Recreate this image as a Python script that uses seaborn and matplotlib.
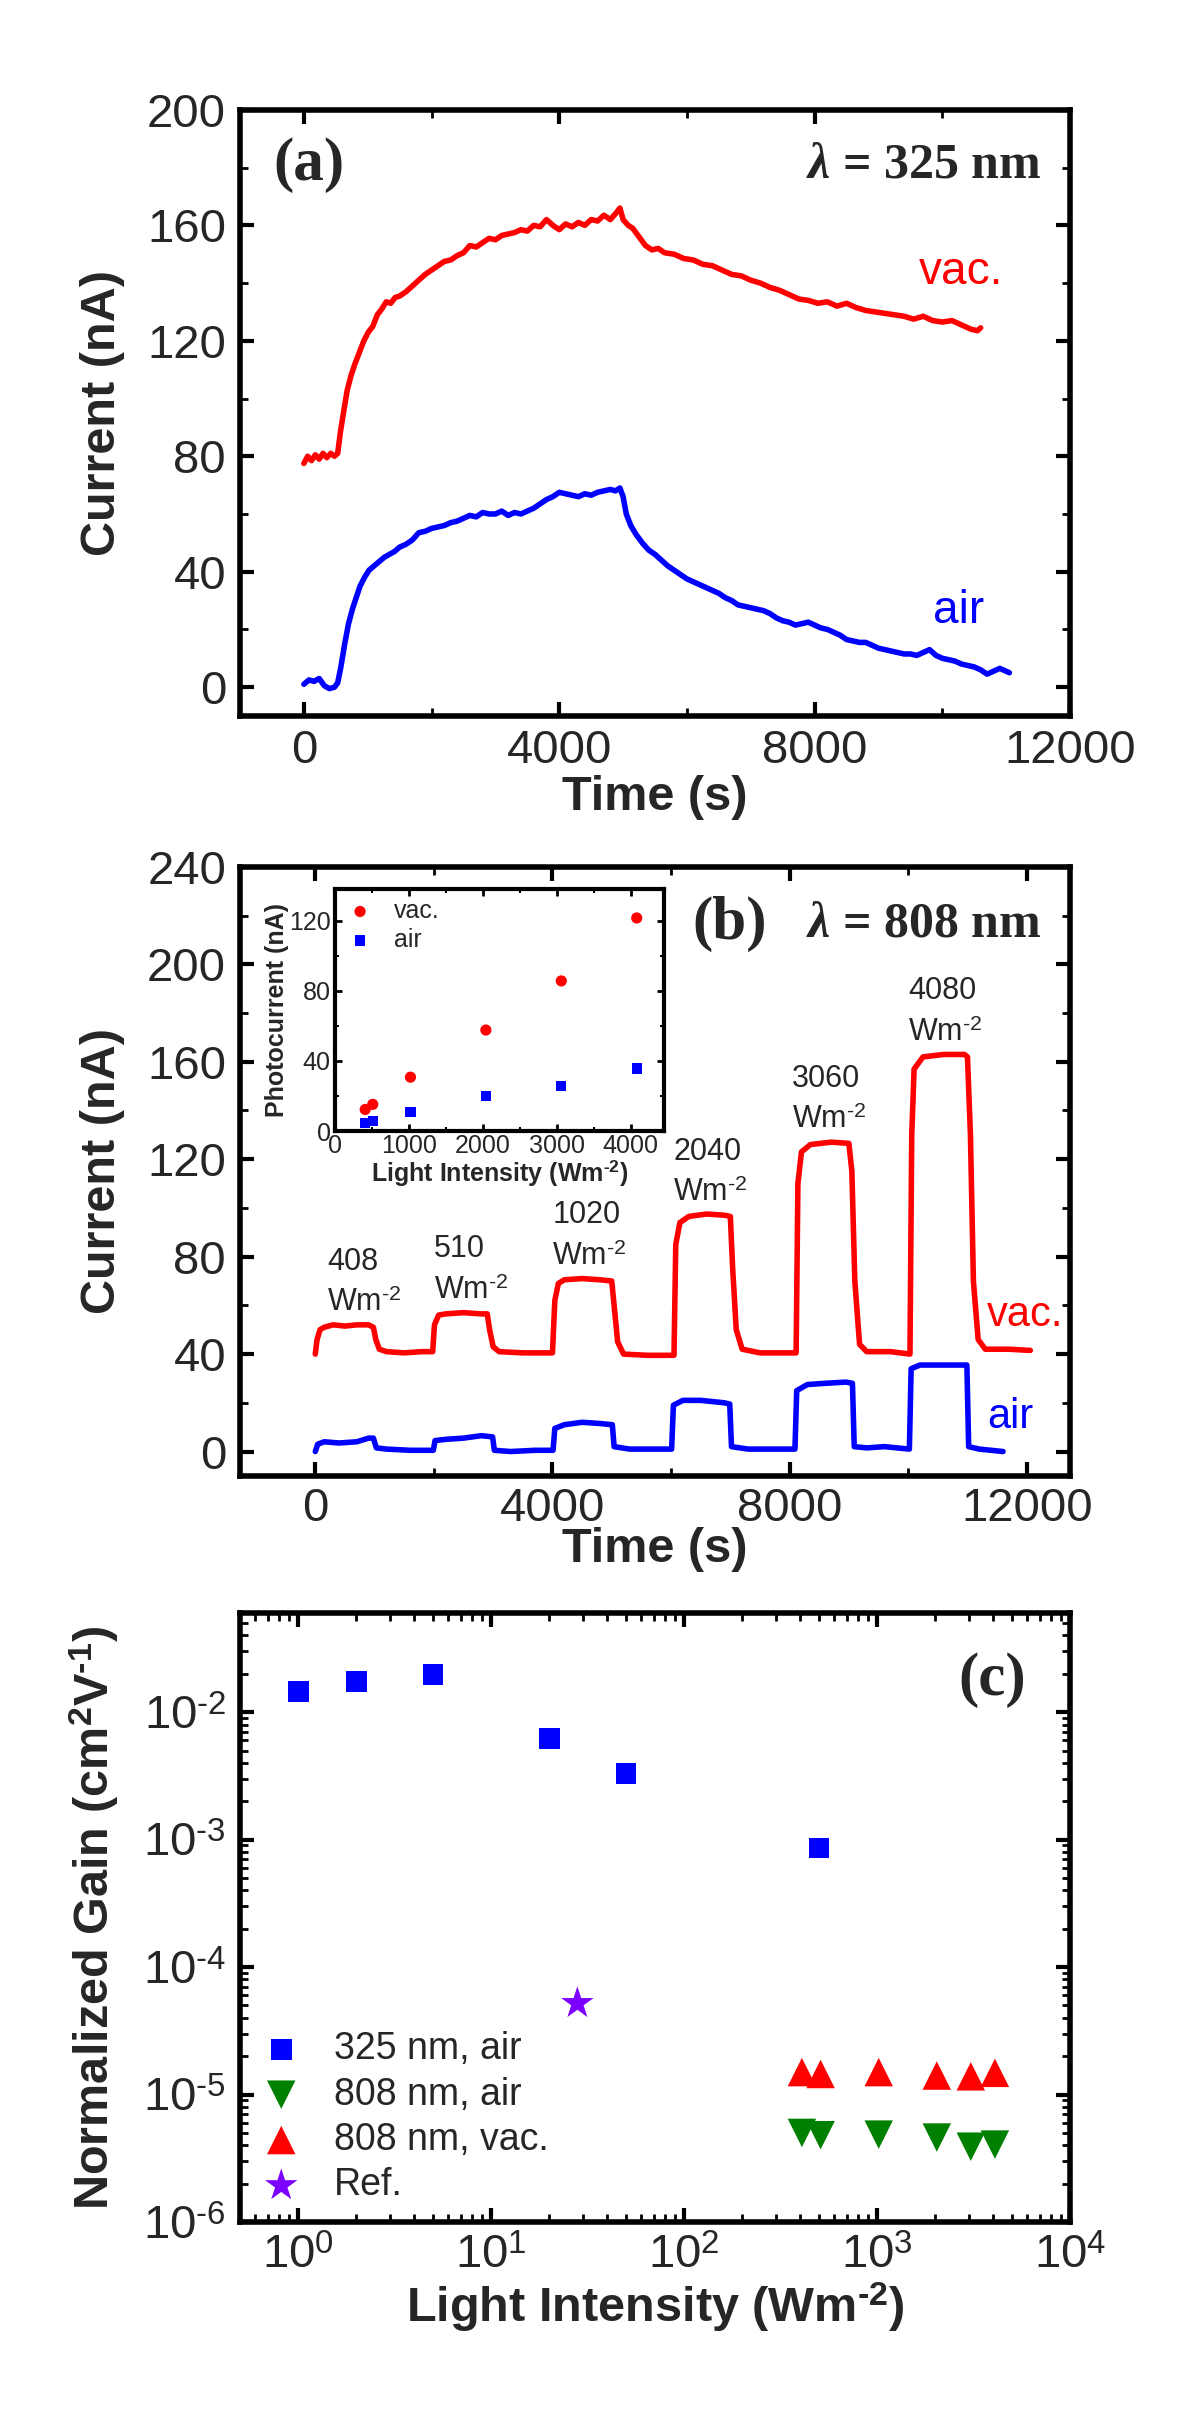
"""
Photocurrent figure: (a) 325 nm transient, (b) 808 nm on/off steps with inset,
(c) normalized gain vs light intensity (log-log)
"""

import matplotlib
matplotlib.use('Agg')
import numpy as np
import matplotlib.pyplot as plt
import seaborn as sns
from matplotlib.ticker import MultipleLocator, LogLocator, FuncFormatter, NullFormatter

sns.set_style('ticks')
plt.rcParams['font.family'] = ['Liberation Sans', 'DejaVu Sans']
plt.rcParams['mathtext.fontset'] = 'custom'
plt.rcParams['mathtext.it'] = 'Liberation Serif:italic:bold'
plt.rcParams['mathtext.rm'] = 'Liberation Sans'

# ---------------- panel (a): 325 nm ----------------
time_a_vac = [0, 60, 120, 180, 240, 300, 360, 420, 480, 530, 570, 620, 680, 740, 800, 870,
              940, 1010, 1080, 1150, 1220, 1290, 1360, 1430, 1500, 1600, 1700, 1800, 1900,
              2000, 2100, 2200, 2300, 2400, 2500, 2600, 2700, 2800, 2900, 3000, 3100, 3200,
              3300, 3400, 3500, 3600, 3700, 3800, 3900, 4000, 4100, 4200, 4300, 4400, 4500,
              4600, 4700, 4800, 4880, 4950, 5000, 5080, 5150, 5250, 5350, 5450, 5550, 5650,
              5800, 5950, 6100, 6250, 6400, 6550, 6700, 6850, 7000, 7150, 7300, 7450, 7600,
              7750, 7900, 8050, 8200, 8350, 8500, 8650, 8800, 8950, 9100, 9250, 9400, 9550,
              9700, 9850, 10000, 10150, 10300, 10450, 10550, 10600]
cur_a_vac = [77.5, 80, 78.5, 80.5, 79, 81, 79.5, 81, 80, 81, 88, 95, 103, 108, 112, 116,
             120, 123, 125, 129, 131, 133.5, 133, 135, 135.5, 137, 139, 141, 143,
             144.5, 146, 147.5, 148, 149.5, 150.5, 153, 152.5, 154, 155.5, 155, 156.5, 157,
             157.5, 158.5, 158, 160, 159.5, 162, 160, 158.5, 160.5, 159.5, 161, 160, 162,
             161.5, 163.5, 162, 164, 166, 162, 160, 159, 156, 153, 151.5, 152, 150.5,
             150, 148.5, 148, 146.5, 146, 144.5, 143, 142.5, 141, 140, 138.5, 137.5, 136,
             134.5, 134, 133, 133.5, 132, 133, 131.5, 130.5, 130, 129.5, 129, 128.5, 127.5,
             128.5, 127, 126.5, 127, 125.5, 124, 123.5, 124.5]

time_a_air = [0, 80, 160, 240, 320, 400, 480, 530, 580, 640, 700, 760, 820, 880, 950, 1020,
              1100, 1180, 1260, 1340, 1420, 1500, 1600, 1700, 1800, 1900, 2000, 2100, 2200,
              2300, 2400, 2500, 2600, 2700, 2800, 2900, 3000, 3100, 3200, 3300, 3400, 3500,
              3600, 3700, 3800, 3900, 4000, 4100, 4200, 4300, 4400, 4500, 4600, 4700, 4800,
              4880, 4950, 5000, 5050, 5120, 5200, 5300, 5400, 5500, 5600, 5700, 5800, 5900,
              6000, 6100, 6200, 6300, 6400, 6500, 6600, 6700, 6800, 6900, 7000, 7100, 7200,
              7300, 7400, 7500, 7600, 7700, 7800, 7900, 8000, 8100, 8200, 8300, 8400, 8500,
              8600, 8700, 8800, 8900, 9000, 9100, 9200, 9300, 9400, 9500, 9600, 9700, 9800,
              9900, 10000, 10100, 10200, 10300, 10400, 10500, 10600, 10700, 10800, 10900,
              11000, 11050]
cur_a_air = [1, 2.5, 2, 3, 0.5, -0.5, 0, 1.5, 7, 15, 22, 27, 31, 35, 38, 40.5,
             42, 43.5, 45, 46, 47, 48.5, 49.5, 51, 53.5, 54, 55, 55.5, 56,
             57, 57.5, 58.5, 59.5, 59, 60.5, 60, 60, 61, 59.5, 60.5, 60, 61,
             62, 63.5, 65, 66, 67.5, 67, 66.5, 66, 67, 66.5, 67.5, 68, 68.5,
             68, 69, 66, 60, 56, 53, 50, 47.5, 46, 44, 42, 40.5, 39,
             37.5, 36.5, 35.5, 34.5, 33.5, 32.5, 31, 30, 28.5, 28, 27.5, 27, 26.5,
             25.5, 24, 23, 22.5, 21.5, 22, 22.5, 21.5, 20.5, 20, 19, 18, 16.5,
             16, 15.5, 15.5, 14.5, 13.5, 13, 12.5, 12, 11.5, 11.5, 11, 12, 13,
             11, 10, 9.5, 9, 8, 7.5, 7, 6, 4.5, 5.5, 6.5,
             5.5, 5]

# ---------------- panel (b): 808 nm steps ----------------
time_b_vac = [0, 30, 80, 150, 300, 500, 700, 900, 980, 1020, 1080, 1200, 1500, 1800, 1980,
              2010, 2080, 2200, 2500, 2800, 2900, 2940, 3000, 3100, 3500, 4000,
              4040, 4100, 4200, 4500, 4800, 5000, 5040, 5100, 5200, 5600, 6050,
              6080, 6150, 6300, 6600, 6900, 7000, 7040, 7100, 7200, 7500, 8000, 8110,
              8140, 8200, 8350, 8700, 9000, 9050, 9100, 9180, 9300, 9700, 10030,
              10060, 10100, 10250, 10600, 10950, 11000, 11050, 11100, 11180, 11300, 11700, 12060]
cur_b_vac = [40, 46, 50, 51, 52, 51.5, 52, 52, 51, 46, 42, 41, 40.5, 41, 41,
             52, 56, 56.5, 57, 56.5, 56.5, 50, 43, 41, 40.5, 40.5,
             62, 69, 70.5, 71, 70.5, 70, 60, 45, 40, 39.5, 39.5,
             85, 94, 96.5, 97.5, 97, 96.5, 75, 50, 42, 40.5, 40.5, 40.5,
             110, 123, 126, 127, 126.5, 115, 70, 44, 41, 41, 40,
             130, 157, 162, 163, 163, 162, 130, 70, 46, 42, 42, 41.5]

time_b_air = [0, 40, 150, 400, 700, 900, 980, 1030, 1200, 1600, 1990,
              2020, 2200, 2500, 2800, 2990, 3020, 3300, 3700, 4010,
              4040, 4200, 4500, 4800, 5010, 5040, 5300, 5700, 6010,
              6040, 6200, 6500, 6900, 6990, 7020, 7300, 7700, 8090,
              8120, 8300, 8600, 8950, 9060, 9090, 9300, 9600, 10020,
              10050, 10200, 10600, 10990, 11020, 11200, 11600]
cur_b_air = [0, 3, 4, 3.5, 4, 5.5, 5.5, 1.5, 1, 0.5, 0.5,
             4.5, 5, 5.5, 6.5, 6, 0.5, 0, 0.5, 0.5,
             9.5, 11, 12, 11.5, 11, 2, 1, 1, 1,
             19, 21, 21, 20, 19.5, 2, 1, 1, 1,
             25, 27.5, 28, 28.5, 28, 2, 1.5, 2, 1,
             34, 35.5, 35.5, 35.5, 2, 1, 0]

step_labels = ['408', '510', '1020', '2040', '3060', '4080']

# ---------------- inset: photocurrent vs intensity ----------------
inset_intensity = [408, 510, 1020, 2040, 3060, 4080]
inset_vac = [12.3, 15.2, 30.7, 57.6, 85.6, 121.5]
inset_air = [4.6, 5.8, 10.9, 20.0, 25.7, 35.7]

# ---------------- panel (c): normalized gain ----------------
int_325 = [1, 2, 5, 20, 50, 500]
gain_325_air = [1.45e-2, 1.75e-2, 1.98e-2, 6.2e-3, 3.3e-3, 8.6e-4]
int_808 = [408, 510, 1020, 2040, 3060, 4080]
gain_808_air = [5.0e-6, 4.8e-6, 4.85e-6, 4.6e-6, 3.9e-6, 4.05e-6]
gain_808_vac = [1.5e-5, 1.45e-5, 1.5e-5, 1.41e-5, 1.39e-5, 1.48e-5]
int_ref = [28]
gain_ref = [5.2e-5]

RED = '#ff0000'
BLUE = '#0000ff'
GREEN = '#008000'
PURPLE = '#7b00ff'
SERIF = ['Liberation Serif', 'DejaVu Serif']
HY = '\u2010'  # short hyphen for superscripts, like the original

TICK_FS = 34
LABEL_FS = 35
LW = 4


def style_axes(ax, spine_w=4, major=(10, 3), minor=(6, 2), fs=TICK_FS, xpad=9, ypad=10):
    for s in ax.spines.values():
        s.set_visible(True)
        s.set_linewidth(spine_w)
        s.set_color('black')
    ax.tick_params(which='both', direction='in', top=True, right=True,
                   labelsize=fs, color='black')
    ax.tick_params(axis='x', pad=xpad)
    ax.tick_params(axis='y', pad=ypad)
    ax.tick_params(which='major', length=major[0], width=major[1])
    ax.tick_params(which='minor', length=minor[0], width=minor[1])


def log_label(v, pos):
    e = int(round(np.log10(v)))
    s = str(e).replace('-', HY)
    return r'10$^{\mathregular{%s}}$' % s


WM2 = r'Wm$^{\mathregular{%s2}}$' % HY

fig = plt.figure(figsize=(12, 24.1), dpi=100)
ax_a = fig.add_axes([0.2, 0.7029, 0.6917, 0.2515])
ax_b = fig.add_axes([0.2, 0.3876, 0.6917, 0.2527])
ax_c = fig.add_axes([0.2, 0.0780, 0.6917, 0.2527])
ax_in = fig.add_axes([0.2792, 0.5307, 0.2742, 0.1004])

# ---- (a)
sns.lineplot(x=time_a_vac, y=cur_a_vac, ax=ax_a, color=RED, linewidth=LW,
             estimator=None, sort=False)
sns.lineplot(x=time_a_air, y=cur_a_air, ax=ax_a, color=BLUE, linewidth=LW,
             estimator=None, sort=False)
ax_a.set_xlim(-1000, 12000)
ax_a.set_ylim(-10, 200)
ax_a.xaxis.set_major_locator(MultipleLocator(4000))
ax_a.xaxis.set_minor_locator(MultipleLocator(2000))
ax_a.yaxis.set_major_locator(MultipleLocator(40))
ax_a.yaxis.set_minor_locator(MultipleLocator(20))
style_axes(ax_a)
ax_a.set_xlabel('Time (s)', fontsize=LABEL_FS, fontweight='bold', labelpad=2)
ax_a.set_ylabel('Current (nA)', fontsize=LABEL_FS, fontweight='bold', labelpad=16)
ax_a.text(0.04, 0.909, '(a)', transform=ax_a.transAxes, fontsize=44,
          fontweight='bold', family=SERIF, ha='left', va='center')
ax_a.text(0.966, 0.909, r'$\lambda$ = 325 nm', transform=ax_a.transAxes, fontsize=36,
          fontweight='bold', family=SERIF, ha='right', va='center')
ax_a.text(10300, 144, 'vac.', color=RED, fontsize=33, ha='center', va='center')
ax_a.text(10260, 26.5, 'air', color=BLUE, fontsize=33, ha='center', va='center')

# ---- (b)
sns.lineplot(x=time_b_vac, y=cur_b_vac, ax=ax_b, color=RED, linewidth=LW,
             estimator=None, sort=False)
sns.lineplot(x=time_b_air, y=cur_b_air, ax=ax_b, color=BLUE, linewidth=LW,
             estimator=None, sort=False)
ax_b.set_xlim(-1270, 12730)
ax_b.set_ylim(-10, 240)
ax_b.xaxis.set_major_locator(MultipleLocator(4000))
ax_b.xaxis.set_minor_locator(MultipleLocator(2000))
ax_b.yaxis.set_major_locator(MultipleLocator(40))
ax_b.yaxis.set_minor_locator(MultipleLocator(20))
style_axes(ax_b, xpad=8)
ax_b.set_xlabel('Time (s)', fontsize=LABEL_FS, fontweight='bold', labelpad=-3)
ax_b.set_ylabel('Current (nA)', fontsize=LABEL_FS, fontweight='bold', labelpad=16)
ax_b.text(0.545, 0.906, '(b)', transform=ax_b.transAxes, fontsize=44,
          fontweight='bold', family=SERIF, ha='left', va='center')
ax_b.text(0.966, 0.906, r'$\lambda$ = 808 nm', transform=ax_b.transAxes, fontsize=36,
          fontweight='bold', family=SERIF, ha='right', va='center')

# labels sit left-aligned at each light-on time
label_x = [194, 2000, 4000, 6040, 8040, 10000]
label_y = [78, 83, 97, 123, 153, 189]
for lx, ly, txt in zip(label_x, label_y, step_labels):
    ax_b.text(lx, ly, txt, fontsize=22, ha='left', va='center')
    ax_b.text(lx, ly - 17, WM2, fontsize=22, ha='left', va='center')
ax_b.text(11970, 56, 'vac.', color=RED, fontsize=30, ha='center', va='center')
ax_b.text(11340, 14, 'air', color=BLUE, fontsize=30, ha='left', va='center')

# ---- inset
sns.scatterplot(x=inset_intensity, y=inset_vac, ax=ax_in, color=RED, marker='o',
                s=65, edgecolor='none', label='vac.')
sns.scatterplot(x=inset_intensity, y=inset_air, ax=ax_in, color=BLUE, marker='s',
                s=55, edgecolor='none', label='air')
ax_in.set_xlim(0, 4450)
ax_in.set_ylim(0, 138)
ax_in.xaxis.set_major_locator(MultipleLocator(1000))
ax_in.xaxis.set_minor_locator(MultipleLocator(500))
ax_in.yaxis.set_major_locator(MultipleLocator(40))
ax_in.yaxis.set_minor_locator(MultipleLocator(20))
style_axes(ax_in, spine_w=3, major=(5, 2), minor=(3, 1.5), fs=18, xpad=2, ypad=3)
ax_in.set_xlabel('Light Intensity (%s)' % WM2, fontsize=18, fontweight='bold', labelpad=0)
ax_in.set_ylabel('Photocurrent (nA)', fontsize=18, fontweight='bold', labelpad=0)
ax_in.legend(loc='upper left', frameon=False, fontsize=18, handlelength=1.2,
             handletextpad=0.75, borderaxespad=0.0, labelspacing=0.2)

# ---- (c)
sns.scatterplot(x=int_325, y=gain_325_air, ax=ax_c, color=BLUE, marker='s', s=225,
                edgecolor='none', label='325 nm, air')
sns.scatterplot(x=int_808, y=gain_808_air, ax=ax_c, color=GREEN, marker='v', s=420,
                edgecolor='none', label='808 nm, air')
sns.scatterplot(x=int_808, y=gain_808_vac, ax=ax_c, color=RED, marker='^', s=420,
                edgecolor='none', label='808 nm, vac.')
sns.scatterplot(x=int_ref, y=gain_ref, ax=ax_c, color=PURPLE, marker='*', s=600,
                edgecolor='none', label='Ref.')
ax_c.set_xscale('log')
ax_c.set_yscale('log')
ax_c.set_xlim(0.5, 1e4)
ax_c.set_ylim(1e-6, 0.06)
ax_c.xaxis.set_major_locator(LogLocator(base=10))
ax_c.xaxis.set_minor_locator(LogLocator(base=10, subs=np.arange(2, 10)))
ax_c.yaxis.set_major_locator(LogLocator(base=10))
ax_c.yaxis.set_minor_locator(LogLocator(base=10, subs=np.arange(2, 10)))
ax_c.xaxis.set_major_formatter(FuncFormatter(log_label))
ax_c.yaxis.set_major_formatter(FuncFormatter(log_label))
ax_c.xaxis.set_minor_formatter(NullFormatter())
ax_c.yaxis.set_minor_formatter(NullFormatter())
style_axes(ax_c)
ax_c.set_xlabel('Light Intensity (%s)' % WM2, fontsize=LABEL_FS,
                fontweight='bold', labelpad=2)
ax_c.set_ylabel(r'Normalized Gain (cm$^{\mathregular{2}}$V$^{\mathregular{%s1}}$)' % HY,
                fontsize=LABEL_FS, fontweight='bold', labelpad=16)
ax_c.text(0.906, 0.89, '(c)', transform=ax_c.transAxes, fontsize=44,
          fontweight='bold', family=SERIF, ha='center', va='center')
ax_c.legend(loc='lower left', bbox_to_anchor=(0.0, 0.0), frameon=False, fontsize=27,
            handlelength=1.2, handletextpad=0.8, labelspacing=0.25,
            borderaxespad=0.1, scatterpoints=1)

fig.savefig('out.png', dpi=100)
